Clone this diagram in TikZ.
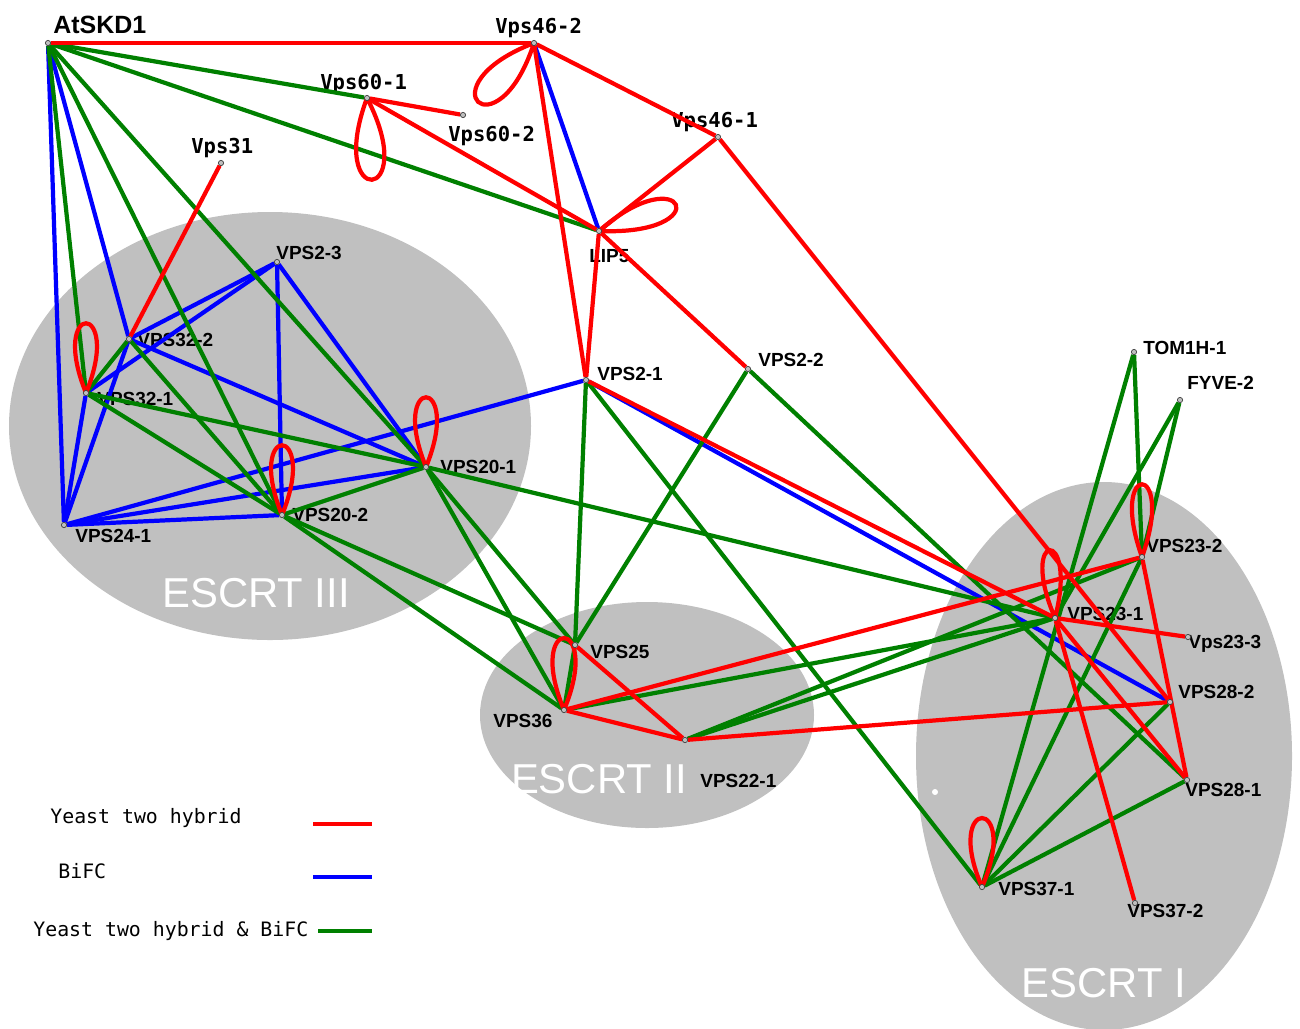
\documentclass[tikz,border=0pt]{standalone}
\usepackage{fontspec}
\setmainfont{Liberation Sans}
\setmonofont{DejaVu Sans Mono}
\definecolor{escrtgray}{RGB}{192,192,192}
\definecolor{bothgreen}{RGB}{0,128,0}
\pgfdeclarelayer{back}
\pgfdeclarelayer{links}
\pgfsetlayers{back,links,main}

\begin{document}
\begin{tikzpicture}[x=0.02cm,y=-0.02cm,
 p/.style={circle,draw=black!75,fill=gray!50,line width=0.4pt,inner sep=0pt,minimum size=3pt},
 lbl/.style={font=\bfseries\fontsize{10.8}{12}\selectfont,inner sep=0pt,anchor=base west},
 vlbl/.style={font=\ttfamily\bfseries\fontsize{11.7}{13}\selectfont,inner sep=0pt,anchor=base west},
 cxname/.style={text=white,font=\fontsize{23.8}{26}\selectfont,inner sep=0pt,anchor=base},
 leg/.style={font=\ttfamily\fontsize{11.3}{13}\selectfont,inner sep=0pt,anchor=base west},
 y2h/.style={draw=red,line width=2.4pt},
 bifc/.style={draw=blue,line width=2.4pt},
 both/.style={draw=bothgreen,line width=2.4pt}]
\useasboundingbox (0,0) rectangle (1300,1028);

% complexes
\begin{pgfonlayer}{back}
\fill[white] (0,0) rectangle (1300,1028);
\fill[escrtgray] (270,426) ellipse [x radius=261, y radius=214];
\fill[escrtgray] (647,715) ellipse [x radius=167, y radius=113];
\fill[escrtgray] (1104,756) ellipse [x radius=188, y radius=274];
\fill[white] (935,792) circle [radius=3];
\node[cxname] (escrt3) at (256,607) {ESCRT III};
\node[cxname] (escrt2) at (599,793) {ESCRT II};
\node[cxname] (escrt1) at (1104,997) {ESCRT I};
% protein names
\node[lbl,font=\bfseries\fontsize{14.2}{16}\selectfont] (skd1t) at (53,33) {AtSKD1};
\node[vlbl] (vps46bt) at (495,33) {Vps46-2};
\node[vlbl] (vps60at) at (320,89) {Vps60-1};
\node[vlbl] (vps60bt) at (448,141) {Vps60-2};
\node[vlbl] (vps31t) at (191,153) {Vps31};
\node[vlbl] (vps46at) at (671,127) {Vps46-1};
\node[lbl] (lip5t) at (589,262) {LIP5};
\node[lbl] (vps2ct) at (276,259) {VPS2-3};
\node[lbl] (vps32bt) at (137,346) {VPS32-2};
\node[lbl] (vps32at) at (97,405) {VPS32-1};
\node[lbl] (vps24t) at (75,542) {VPS24-1};
\node[lbl] (vps20bt) at (292,521) {VPS20-2};
\node[lbl] (vps20at) at (440,473) {VPS20-1};
\node[lbl] (vps2at) at (597,380) {VPS2-1};
\node[lbl] (vps2bt) at (758,366) {VPS2-2};
\node[lbl] (vps25t) at (590,658) {VPS25};
\node[lbl] (vps36t) at (493,727) {VPS36};
\node[lbl] (vps22t) at (700,787) {VPS22-1};
\node[lbl] (tom1ht) at (1143,354) {TOM1H-1};
\node[lbl] (fyve2t) at (1187,389) {FYVE-2};
\node[lbl] (vps23bt) at (1146,552) {VPS23-2};
\node[lbl] (vps23at) at (1067,620) {VPS23-1};
\node[lbl] (vps23ct) at (1188,648) {Vps23-3};
\node[lbl] (vps28bt) at (1178,698) {VPS28-2};
\node[lbl] (vps28at) at (1185,796) {VPS28-1};
\node[lbl] (vps37at) at (998,895) {VPS37-1};
\node[lbl] (vps37bt) at (1127,917) {VPS37-2};
\end{pgfonlayer}

% proteins
\node[p] (skd1) at (48,43) {};
\node[p] (vps46b) at (534,43) {};
\node[p] (vps60a) at (367,98) {};
\node[p] (vps60b) at (463,115) {};
\node[p] (vps31) at (221,163) {};
\node[p] (vps46a) at (718,137) {};
\node[p] (lip5) at (599,231) {};
\node[p] (vps2c) at (277,262) {};
\node[p] (vps32b) at (129,339) {};
\node[p] (vps32a) at (86,393) {};
\node[p] (vps24) at (64,525) {};
\node[p] (vps20b) at (282,515) {};
\node[p] (vps20a) at (426,467) {};
\node[p] (vps2a) at (586,380) {};
\node[p] (vps2b) at (748,369) {};
\node[p] (vps25) at (575,645) {};
\node[p] (vps36) at (564,710) {};
\node[p] (vps22) at (685,740) {};
\node[p] (tom1h) at (1134,352) {};
\node[p] (fyve2) at (1180,400) {};
\node[p] (vps23b) at (1142,557) {};
\node[p] (vps23a) at (1055,618) {};
\node[p] (vps23c) at (1188,637) {};
\node[p] (vps28b) at (1170,702) {};
\node[p] (vps28a) at (1187,780) {};
\node[p] (vps37a) at (982,887) {};
\node[p] (vps37b) at (1135,903) {};

\begin{pgfonlayer}{links}
% BiFC
\draw[bifc] (skd1)--(vps24); \draw[bifc] (skd1)--(vps32b); \draw[bifc] (vps46b)--(lip5);
\draw[bifc] (vps2c)--(vps32b); \draw[bifc] (vps2c)--(vps32a); \draw[bifc] (vps2c)--(vps20b); \draw[bifc] (vps2c)--(vps20a);
\draw[bifc] (vps32b)--(vps20a); \draw[bifc] (vps32b)--(vps24); \draw[bifc] (vps32a)--(vps24);
\draw[bifc] (vps24)--(vps20b); \draw[bifc] (vps24)--(vps20a); \draw[bifc] (vps24)--(vps2a); \draw[bifc] (vps2a)--(vps28b);
% yeast two hybrid and BiFC
\draw[both] (skd1)--(vps60a); \draw[both] (skd1)--(lip5); \draw[both] (skd1)--(vps32a); \draw[both] (skd1)--(vps20b); \draw[both] (skd1)--(vps20a);
\draw[both] (vps32a)--(vps32b); \draw[both] (vps32a)--(vps20a); \draw[both] (vps32a)--(vps20b); \draw[both] (vps32b)--(vps20b);
\draw[both] (vps20b)--(vps20a); \draw[both] (vps20b)--(vps25); \draw[both] (vps20b)--(vps36);
\draw[both] (vps20a)--(vps25); \draw[both] (vps20a)--(vps36); \draw[both] (vps20a)--(vps23a);
\draw[both] (vps2a)--(vps25); \draw[both] (vps2a)--(vps37a); \draw[both] (vps2b)--(vps25); \draw[both] (vps2b)--(vps28a);
\draw[both] (vps25)--(vps36); \draw[both] (vps36)--(vps23a); \draw[both] (vps22)--(vps23b); \draw[both] (vps22)--(vps23a);
\draw[both] (tom1h)--(vps23b); \draw[both] (tom1h)--(vps37a); \draw[both] (fyve2)--(vps23a); \draw[both] (fyve2)--(vps23b);
\draw[both] (vps23b)--(vps37a); \draw[both] (vps28b)--(vps37a); \draw[both] (vps28a)--(vps37a);
% yeast two hybrid
\draw[y2h] (skd1)--(vps46b); \draw[y2h] (vps60a)--(vps60b); \draw[y2h] (vps60a)--(lip5);
\draw[y2h] (vps46b)--(vps46a); \draw[y2h] (vps46b)--(vps2a); \draw[y2h] (vps46a)--(lip5); \draw[y2h] (vps46a)--(vps28b);
\draw[y2h] (lip5)--(vps2a); \draw[y2h] (lip5)--(vps2b); \draw[y2h] (vps31)--(vps32b); \draw[y2h] (vps2a)--(vps23a);
\draw[y2h] (vps25)--(vps22); \draw[y2h] (vps36)--(vps22); \draw[y2h] (vps36)--(vps23b); \draw[y2h] (vps22)--(vps28b);
\draw[y2h] (vps23a)--(vps23c); \draw[y2h] (vps23a)--(vps37b); \draw[y2h] (vps23a)--(vps28a); \draw[y2h] (vps23b)--(vps28a);
% self interactions
\draw[y2h] (vps46b.center) .. controls +(-37,114) and +(-112,43) .. (vps46b.center);
\draw[y2h] (vps60a.center) .. controls +(55,106) and +(-42,112) .. (vps60a.center);
\draw[y2h] (lip5.center) .. controls +(120,5) and +(85,-75) .. (lip5.center);
\draw[y2h] (vps32a.center) .. controls +(-38,-93) and +(38,-93) .. (vps32a.center);
\draw[y2h] (vps20b.center) .. controls +(-38,-93) and +(38,-93) .. (vps20b.center);
\draw[y2h] (vps20a.center) .. controls +(-38,-93) and +(38,-93) .. (vps20a.center);
\draw[y2h] (vps36.center) .. controls +(-40,-96) and +(40,-96) .. (vps36.center);
\draw[y2h] (vps23b.center) .. controls +(-35,-97) and +(35,-97) .. (vps23b.center);
\draw[y2h] (vps23a.center) .. controls +(-38,-88) and +(24,-93) .. (vps23a.center);
\draw[y2h] (vps37a.center) .. controls +(-40,-92) and +(40,-92) .. (vps37a.center);
\end{pgfonlayer}

% legend
\node[leg] (legy2h) at (50,823) {Yeast two hybrid};
\node[leg] (legbifc) at (58,878) {BiFC};
\node[leg] (legboth) at (33,936) {Yeast two hybrid \& BiFC};
\coordinate (ra) at (313,824); \coordinate (rb) at (372,824);
\coordinate (ba) at (313,877); \coordinate (bb) at (372,877);
\coordinate (ga) at (318,931); \coordinate (gb) at (372,931);
\draw[y2h] (ra)--(rb); \draw[bifc] (ba)--(bb); \draw[both] (ga)--(gb);
\end{tikzpicture}
\end{document}
